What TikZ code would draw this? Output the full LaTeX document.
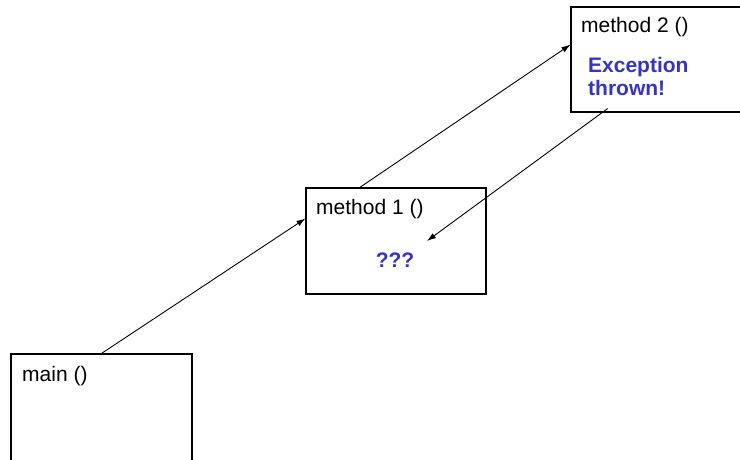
\documentclass[tikz,border=0pt]{standalone}
\usepackage{fontspec}
\setmainfont{Liberation Sans}
\usetikzlibrary{calc}
\usetikzlibrary{arrows.meta}
\definecolor{exblue}{RGB}{51,51,204}

\begin{document}
\begin{tikzpicture}[x=1pt, y=1pt,
    frame/.style={draw, line width=1.1pt, rectangle, inner sep=0pt},
    title/.style={anchor=base west, inner sep=0pt, font=\fontsize{21}{25}\selectfont},
    note/.style={inner sep=0pt, text=exblue, font=\fontsize{21}{23}\selectfont\bfseries},
    call/.style={-{Latex[length=9pt,width=6pt]}, line width=0.9pt}]
            % Fix the canvas
            \clip (0,0) rectangle (740,460);

            % Draw the method frames
            \node[frame, minimum width=181pt, minimum height=130pt] (main) at (101.5,41) {};
            \node[frame, minimum width=180pt, minimum height=106pt] (m1) at (396,219) {};
            \node[frame, minimum width=200pt, minimum height=105pt] (m2) at (671,400.5) {};

            % Labels inside the frames
            \node[title] (mainlbl) at (22,78) {main ()};
            \node[title] (m1lbl) at (316,245) {method 1 ()};
            \node[title] (m2lbl) at (581,427) {method 2 ()};
            \node[note, anchor=north west, align=left] (thrown) at (588,403) {Exception\\thrown!};
            \node[note] (qq) at (395,200) {???};

            % Calls going up
            \draw[call] (main.north) -- ($(m1.north west)!0.29!(m1.south west)$);
            \draw[call] ($(m1.north west)!0.3!(m1.north east)$) -- ($(m2.north west)!0.36!(m2.south west)$);

            % Exception coming back
            \coordinate (hit) at (427,219);
            \draw[call] ($(m2.south west)!0.185!(m2.south east)$) ++(0,4) -- (hit);

        \end{tikzpicture}
\end{document}
